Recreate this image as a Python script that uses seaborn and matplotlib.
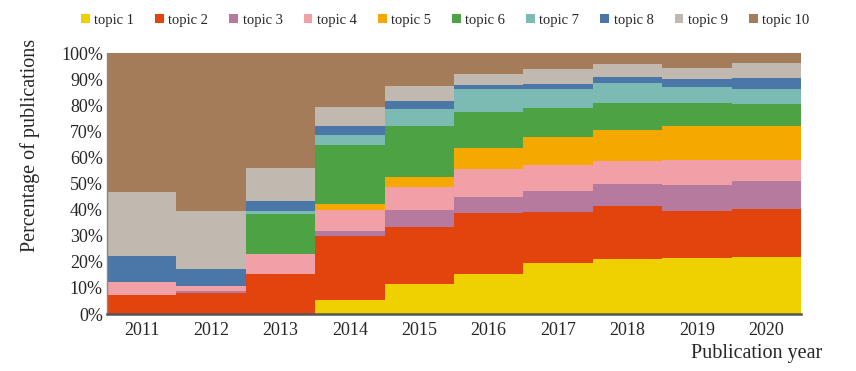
import numpy as np
import pandas as pd
import matplotlib
matplotlib.use("Agg")
import matplotlib.pyplot as plt
from matplotlib.patches import Patch
import seaborn as sns

# veriler (yüzde, her yıl toplam 100)
years = ["2011", "2012", "2013", "2014", "2015", "2016", "2017", "2018", "2019", "2020"]
topic1 = [0.0, 0.0, 0.0, 5.5, 11.4, 15.3, 19.5, 21.1, 21.3, 21.7]
topic2 = [7.3, 7.9, 15.2, 24.5, 21.8, 23.4, 19.6, 20.2, 18.0, 18.5]
topic3 = [0.0, 1.0, 0.0, 1.8, 6.5, 6.2, 7.9, 8.6, 10.0, 10.8]
topic4 = [4.8, 1.8, 7.8, 8.0, 8.8, 10.5, 10.0, 8.6, 9.7, 8.0]
topic5 = [0.0, 0.0, 0.0, 2.2, 4.0, 8.3, 10.7, 11.9, 13.1, 12.9]
topic6 = [0.0, 0.0, 15.2, 22.9, 19.6, 13.8, 11.1, 10.6, 8.9, 8.4]
topic7 = [0.0, 0.0, 1.3, 3.8, 6.4, 8.6, 7.5, 7.4, 6.0, 6.0]
topic8 = [10.0, 6.7, 3.7, 3.2, 3.0, 1.6, 1.9, 2.3, 2.9, 4.2]
topic9 = [24.8, 22.2, 12.7, 7.4, 5.9, 4.4, 5.6, 5.1, 4.2, 5.6]
topic10 = [53.1, 60.4, 44.1, 20.7, 12.6, 7.9, 6.2, 4.2, 5.9, 3.9]

topics = ["topic 1", "topic 2", "topic 3", "topic 4", "topic 5",
          "topic 6", "topic 7", "topic 8", "topic 9", "topic 10"]
colors = ["#EFD000", "#E3440D", "#B67A9E", "#F1A0A8", "#F5A800",
          "#4DA243", "#7CBAB4", "#4A76A8", "#C1B8AF", "#A57C5A"]

df = pd.DataFrame([topic1, topic2, topic3, topic4, topic5,
                   topic6, topic7, topic8, topic9, topic10],
                  index=topics, columns=years).T
cum = df.cumsum(axis=1)

sns.set_style("white")
plt.rcParams["font.family"] = ["Liberation Serif", "DejaVu Serif"]

fig = plt.figure(figsize=(8.56, 3.71), dpi=100)
ax = fig.add_axes([0.125, 0.1536, 0.8107, 0.7035])

# en üstteki kümülatif değerden başlayarak üst üste çiz
for t, c in reversed(list(zip(topics, colors))):
    sns.barplot(x=years, y=cum[t].values, color=c, width=1, saturation=1,
                linewidth=0, ax=ax)

ax.set_xlim(-0.5, 9.5)
ax.set_ylim(0, 100)

# x ekseni: çubuk sınırlarında çentik, ortada yıl etiketi
ax.set_xticks(np.arange(0.5, 9, 1))
ax.set_xticklabels([])
ax.set_xticks(range(10), labels=years, minor=True)
ax.tick_params(axis="x", which="major", direction="in", length=5, color="#555555", width=1)
ax.tick_params(axis="x", which="minor", length=0, labelsize=13, pad=6)

ax.set_yticks(range(0, 101, 10))
ax.set_yticklabels([f"{v}%" for v in range(0, 101, 10)])
ax.tick_params(axis="y", direction="in", length=4, color="#555555", labelsize=13, pad=3)

for s in ["top", "right"]:
    ax.spines[s].set_visible(False)
ax.spines["bottom"].set_color("#555555")
ax.spines["bottom"].set_linewidth(1.8)
ax.spines["left"].set_color("#888888")
ax.spines["left"].set_linewidth(1)

ax.set_xlabel("Publication year", fontsize=14.5, loc="right")
ax.xaxis.set_label_coords(1.03, -0.115)
ax.set_ylabel("Percentage of publications", fontsize=14.5)
ax.yaxis.set_label_coords(-0.0965, 0.647)

handles = [Patch(facecolor=c, edgecolor="none", label=t) for t, c in zip(topics, colors)]
fig.legend(handles=handles, loc="center", bbox_to_anchor=(0.52, 0.945), ncol=10,
           frameon=False, fontsize=10.5, handlelength=0.6, handleheight=0.6,
           handletextpad=0.3, columnspacing=1.45)

fig.savefig("out.png", dpi=100)
